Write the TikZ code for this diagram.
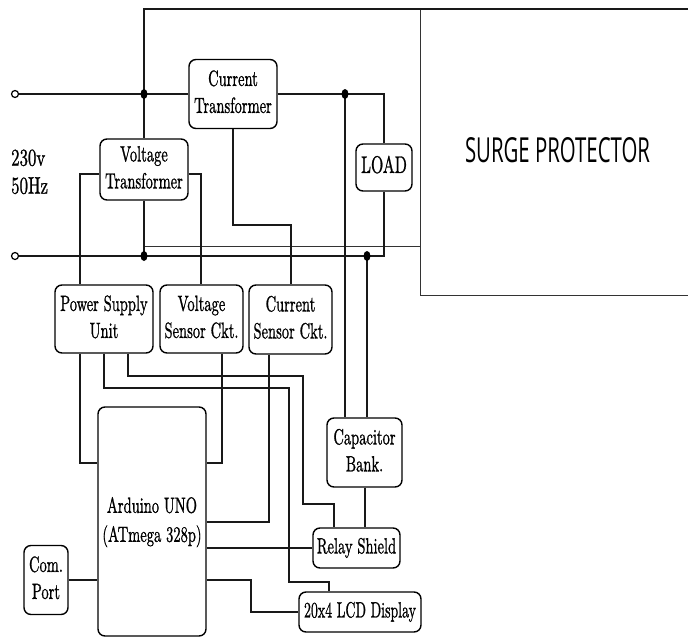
\documentclass[tikz,border=0pt]{standalone}
\usepackage{fontspec}
\usepackage{graphicx}
\newfontfamily\surgefont{Open Sans}
\newfontfamily\bxfont[FakeBold=1.2]{lmroman10-regular.otf}
\newcommand\bxtext[2][0.66]{\scalebox{#1}[1]{\begin{tabular}{@{}c@{}}#2\end{tabular}}}
\begin{document}
\begin{tikzpicture}[x=1pt,y=-1pt,
  wire/.style={line width=1.5pt, draw=black!90},
  sbox/.style={line width=1pt, draw=black!80},
  bx/.style={draw, rounded corners=7pt, inner sep=0pt, line width=1.4pt,
    font=\bxfont\fontsize{22}{27}\selectfont},
  term/.style={circle, draw, fill=white, minimum size=7pt, inner sep=0pt, line width=1.2pt}]
\useasboundingbox (0,0) rectangle (688,637);

% helper levels
\coordinate (vy) at (0,174);
\coordinate (y463) at (0,463);
\coordinate (y522) at (0,522);

% junctions and surge box corners
\coordinate (j1) at (144,94);
\coordinate (j2) at (345,94);
\coordinate (j3) at (144,256);
\coordinate (j4) at (367,256);
\coordinate (sp1) at (688,9);
\coordinate (sp2) at (420,9);
\coordinate (sp3) at (420,295);
\coordinate (sp4) at (688,295);
\coordinate (sl) at (420,246);

% boxes
\node[bx, minimum width=88, minimum height=69] (ct) at (233,94) {\bxtext{Current\\Transformer}};
\node[bx, minimum width=88, minimum height=61] (vt) at (144,169.5) {\bxtext{Voltage\\Transformer}};
\node[bx, minimum width=56, minimum height=47, font=\bxfont\fontsize{24}{27}\selectfont] (load) at (384,167.5) {\bxtext{LOAD}};
\node[bx, minimum width=98, minimum height=68] (psu) at (104,319) {\bxtext{Power Supply\\Unit}};
\node[bx, minimum width=83, minimum height=68] (vsc) at (201.5,319) {\bxtext{Voltage\\Sensor Ckt.}};
\node[bx, minimum width=83, minimum height=69] (csc) at (290.5,319.5) {\bxtext{Current\\Sensor Ckt.}};
\node[bx, minimum width=108, minimum height=229, font=\bxfont\fontsize{22}{29}\selectfont] (ard) at (152,521.5) {\bxtext{Arduino UNO\\(ATmega 328p)}};
\node[bx, minimum width=75, minimum height=69] (cap) at (364.5,452.5) {\bxtext{Capacitor\\Bank.}};
\node[bx, minimum width=87, minimum height=40] (rel) at (356.5,548) {\bxtext{Relay Shield}};
\node[bx, minimum width=122, minimum height=40] (lcd) at (360,612) {\bxtext[0.63]{20x4 LCD Display}};
\node[bx, minimum width=44, minimum height=69] (com) at (46,580) {\bxtext{Com.\\Port}};

% labels
\node[anchor=west, inner sep=0pt, font=\bxfont\fontsize{24}{28}\selectfont] (volt) at (11,174)
  {\scalebox{0.7}[1]{\begin{tabular}{@{}l@{}}230v\\50Hz\end{tabular}}};
\node[inner sep=0pt] (surge) at (557.5,150.5) {\resizebox{185pt}{25pt}{\surgefont SURGE PROTECTOR}};

% terminals
\node[term] (t1) at (15,94) {};
\node[term] (t2) at (15,256) {};

% surge protector outline
\draw[sbox] (sp2) -- (sp3) -- (sp4);
\draw[sbox] (j1 |- sl) -- (sl);

% mains wiring
\draw[wire] (t1) -- (j1) -- (ct.west);
\draw[wire] (j1) -- (j1 |- sp1) -- (sp1);
\draw[wire] (j1) -- (vt.north);
\draw[wire] (vt.south) -- (j3);
\draw[wire] (ct.east) -- (j2) -- (j2 -| load) -- (load.north);
\draw[wire] (load.south) -- (load.south |- j4) -- (t2);
\draw[wire] (j2) -- (j2 |- cap.north);
\draw[wire] (j4) -- (j4 |- cap.north);

% transformer outputs
\draw[wire] (vt.west |- vy) -| ([xshift=-24pt]psu.north);
\draw[wire] (vt.east |- vy) -| ([xshift=-0.5pt]vsc.north);
\draw[wire] (ct.south) -- ++(0,96) -| ([xshift=0.5pt]csc.north);

% low-voltage wiring
\draw[wire] ([xshift=-24pt]psu.south) |- (ard.west |- y463);
\draw[wire] (psu.south) |- (289,388) |- (329,582) -- ([xshift=-31pt]lcd.north);
\draw[wire] ([xshift=24pt]psu.south) |- (303,376) |- (334,504) -- ([xshift=-22.5pt]rel.north);
\draw[wire] ([xshift=20.5pt]vsc.south) |- (ard.east |- y463);
\draw[wire] ([xshift=-21.5pt]csc.south) |- (ard.east |- y522);
\draw[wire] ([xshift=0.5pt]cap.south) -- ([xshift=0.5pt]cap.south |- rel.north);
\draw[wire] (rel.west -| ard.east) -- (rel.west);
\draw[wire] (com.east) -- (com.east -| ard.west);
\draw[wire] (com.east -| ard.east) -| (251,612) -- (lcd.west);

% junction dots
\foreach \j in {j1,j2,j3,j4} \fill (\j) ellipse [x radius=3.5pt, y radius=5pt];
\end{tikzpicture}
\end{document}
